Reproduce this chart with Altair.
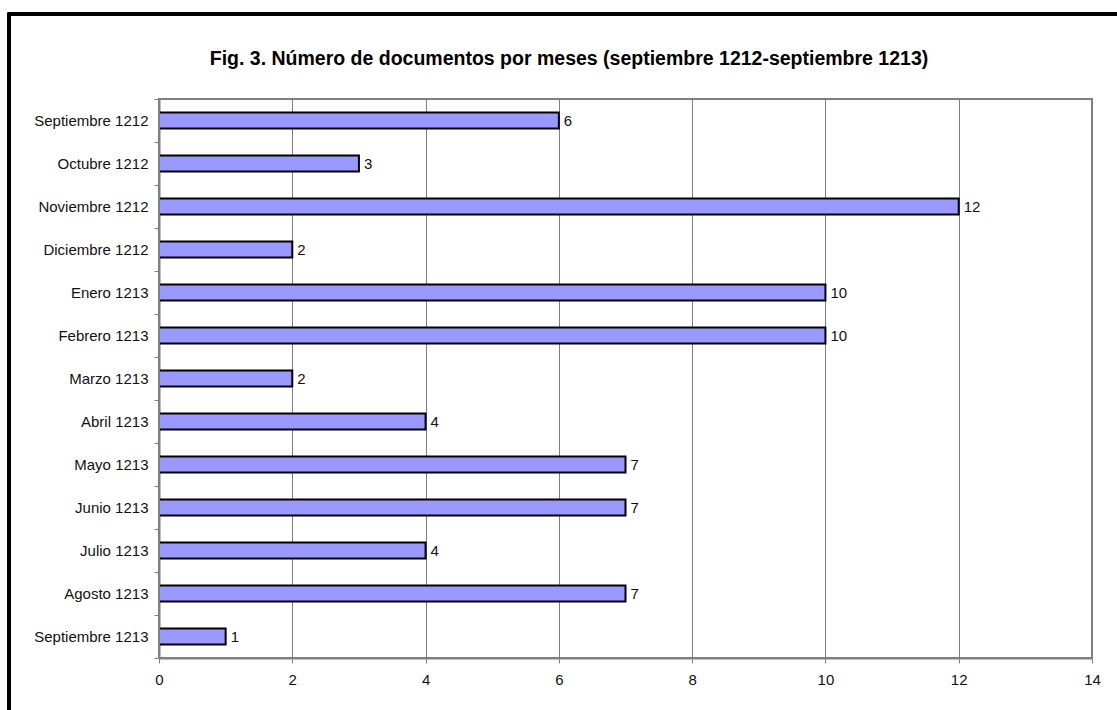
import altair as alt
import pandas as pd

# Monthly document counts, September 1212 to September 1213
months = [
    "Septiembre 1212", "Octubre 1212", "Noviembre 1212", "Diciembre 1212",
    "Enero 1213", "Febrero 1213", "Marzo 1213", "Abril 1213", "Mayo 1213",
    "Junio 1213", "Julio 1213", "Agosto 1213", "Septiembre 1213",
]
counts = [6, 3, 12, 2, 10, 10, 2, 4, 7, 7, 4, 7, 1]
x_ticks = [0, 2, 4, 6, 8, 10, 12, 14]
title_text = "Fig. 3. Número de documentos por meses (septiembre 1212-septiembre 1213)"

df = pd.DataFrame({"mes": months, "documentos": counts})

FONT = "Liberation Sans"
GREY = "#808080"
PLOT_H = 559

y_enc = alt.Y(
    "mes:N",
    sort=months,
    title=None,
    scale=alt.Scale(paddingInner=0, paddingOuter=0),
    axis=alt.Axis(
        tickBand="extent",
        tickSize=5,
        tickColor=GREY,
        domainColor=GREY,
        domainWidth=2,
        labelFont=FONT,
        labelFontSize=15,
        labelColor="#111111",
        labelPadding=6,
        grid=False,
    ),
)
x_enc = alt.X(
    "documentos:Q",
    title=None,
    scale=alt.Scale(domain=[0, 14], nice=False),
    axis=alt.Axis(
        values=x_ticks,
        format="d",
        labelFlush=False,
        tickSize=5,
        tickColor=GREY,
        domainColor=GREY,
        domainWidth=2,
        gridColor=GREY,
        gridWidth=1,
        gridOpacity=1,
        labelFont=FONT,
        labelFontSize=15,
        labelColor="#111111",
        labelPadding=9,
    ),
)

# grey border of the plotting area
plot_box = alt.Chart(pd.DataFrame({"a": [0], "b": [14]})).mark_rect(
    fill=None, stroke=GREY, strokeWidth=2
).encode(
    x=alt.X("a:Q"), x2="b:Q",
    y=alt.value(0), y2=alt.value(PLOT_H),
)

bars = alt.Chart(df).mark_bar(
    fill="#9999FF", stroke="black", strokeWidth=2, size=16
).encode(x=x_enc, y=y_enc)

labels = alt.Chart(df).mark_text(
    align="left", baseline="middle", dx=5, font=FONT, fontSize=15, color="#111111"
).encode(x="documentos:Q", y=alt.Y("mes:N", sort=months), text="documentos:Q")

# outer frame around the whole figure
frame = alt.Chart(df).mark_rect(
    fill=None, stroke="black", strokeWidth=2.5
).encode(
    x=alt.value(-150), x2=alt.value(1200),
    y=alt.value(-85), y2=alt.value(800),
)

# figure caption above the plot
caption = alt.Chart(pd.DataFrame({"t": [title_text]})).mark_text(
    font=FONT, fontSize=19.5, fontWeight="bold", color="black",
    align="center", baseline="alphabetic",
).encode(text="t:N", x=alt.value(410), y=alt.value(-34))

chart = alt.layer(frame, bars, plot_box, labels, caption).properties(
    width=933,
    height=PLOT_H,
    autosize=alt.AutoSizeParams(type="none"),
    padding={"left": 159, "top": 99, "right": 25, "bottom": 52},
).configure_view(
    stroke=GREY, strokeWidth=2
).configure(background="white")

chart.save("out.html", embed_options={"renderer": "svg", "actions": False})
